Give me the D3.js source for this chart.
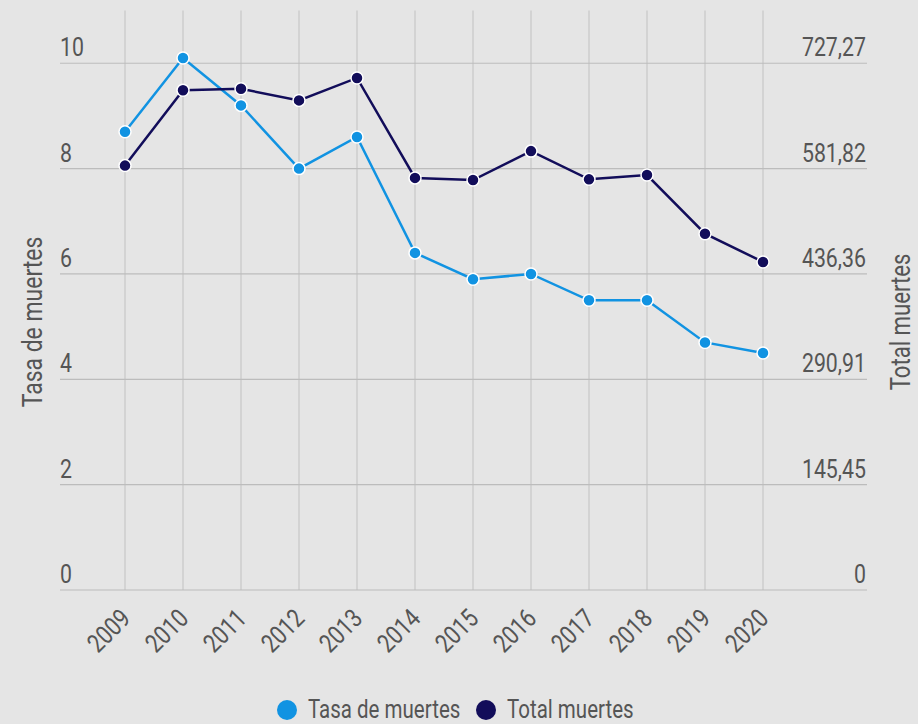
<!DOCTYPE html>
<meta charset="utf-8">
<style>
body { margin: 0; background: #e5e5e5; }
svg { display: block; font-family: Roboto, "Liberation Sans", sans-serif; }
.grid line { stroke: #c6c6c6; stroke-width: 1.2; }
.lbl { fill: #555; font-size: 26px; }
</style>
<svg width="918" height="724"></svg>
<script src="https://d3js.org/d3.v7.min.js"></script>
<script>

var years = ["2009", "2010", "2011", "2012", "2013", "2014", "2015", "2016", "2017", "2018", "2019", "2020"];
var tasa = [8.7, 10.1, 9.2, 8.0, 8.6, 6.4, 5.9, 6.0, 5.5, 5.5, 4.7, 4.5];
var total = [586, 690, 692, 676, 707, 569, 566, 606, 567, 573, 492, 453];
var leftTicks = [0, 2, 4, 6, 8, 10];
var rightTicks = [0, 145.4545, 290.9091, 436.3636, 581.8182, 727.2727];

var svg = d3.select("svg"),
    width = +svg.attr("width"),
    height = +svg.attr("height");

var blue = "#1193e2",
    navy = "#120d5a";

// narrow look: squeeze the text horizontally
var squeeze = " scale(0.82,1)";

var x = d3.scalePoint()
    .domain(years)
    .range([125, 763]);

var yL = d3.scaleLinear()
    .domain([0, 11])
    .range([590, 10.6]);

var yR = d3.scaleLinear()
    .domain([0, 800])
    .range([590, 10.6]);

var fmt = function(v) {
  return v === 0 ? "0" : d3.format(".2f")(v).replace(".", ",");
};

// grid
var grid = svg.append("g").attr("class", "grid");

grid.selectAll(".v")
  .data(years)
  .enter().append("line")
    .attr("x1", d => x(d)).attr("x2", d => x(d))
    .attr("y1", yL(11)).attr("y2", yL(0));

grid.selectAll(".h")
  .data(leftTicks)
  .enter().append("line")
    .attr("x1", 60).attr("x2", 867)
    .attr("y1", d => yL(d)).attr("y2", d => yL(d))
    .style("stroke", "#bcbcbc");

// left tick labels
svg.append("g").selectAll("text")
  .data(leftTicks)
  .enter().append("text")
    .attr("class", "lbl")
    .attr("transform", d => "translate(60," + (yL(d) - 7) + ")" + squeeze)
    .text(d => d);

// right tick labels
svg.append("g").selectAll("text")
  .data(rightTicks)
  .enter().append("text")
    .attr("class", "lbl")
    .attr("text-anchor", "end")
    .attr("transform", d => "translate(866," + (yR(d) - 7) + ")" + squeeze)
    .text(d => fmt(d));

// x labels
svg.append("g").selectAll("text")
  .data(years)
  .enter().append("text")
    .attr("class", "lbl")
    .attr("text-anchor", "end")
    .attr("transform", d => "translate(" + (x(d) + 7) + ",620) rotate(-45)" + squeeze)
    .text(d => d);

// axis titles
svg.append("text")
   .attr("class", "lbl")
   .attr("text-anchor", "middle")
   .attr("transform", "translate(42,322) rotate(-90)" + squeeze)
   .style("font-size", "28px")
   .text("Tasa de muertes");

svg.append("text")
   .attr("class", "lbl")
   .attr("text-anchor", "middle")
   .attr("transform", "translate(910,322) rotate(-90)" + squeeze)
   .style("font-size", "27px")
   .text("Total muertes");

// lines
var lineL = d3.line().x((d, i) => x(years[i])).y(d => yL(d));
var lineR = d3.line().x((d, i) => x(years[i])).y(d => yR(d));

svg.append("path")
   .datum(tasa)
   .attr("d", lineL)
   .attr("fill", "none")
   .attr("stroke", blue)
   .attr("stroke-width", 2.5);

svg.append("path")
   .datum(total)
   .attr("d", lineR)
   .attr("fill", "none")
   .attr("stroke", navy)
   .attr("stroke-width", 2.5);

svg.append("g").selectAll("circle")
  .data(tasa)
  .enter().append("circle")
    .attr("cx", (d, i) => x(years[i]))
    .attr("cy", d => yL(d))
    .attr("r", 6)
    .attr("fill", blue)
    .attr("stroke", "#fff")
    .attr("stroke-width", 1.5);

svg.append("g").selectAll("circle")
  .data(total)
  .enter().append("circle")
    .attr("cx", (d, i) => x(years[i]))
    .attr("cy", d => yR(d))
    .attr("r", 6)
    .attr("fill", navy)
    .attr("stroke", "#fff")
    .attr("stroke-width", 1.5);

// legend
var legend = [
  {name: "Tasa de muertes", color: blue, cx: 287},
  {name: "Total muertes", color: navy, cx: 486}
];

var lg = svg.append("g").selectAll("g")
  .data(legend)
  .enter().append("g");

lg.append("circle")
  .attr("cx", d => d.cx)
  .attr("cy", 710)
  .attr("r", 10)
  .attr("fill", d => d.color);

lg.append("text")
  .attr("class", "lbl")
  .attr("transform", d => "translate(" + (d.cx + 21) + ",718)" + squeeze)
  .style("font-size", "25px")
  .text(d => d.name);

</script>
